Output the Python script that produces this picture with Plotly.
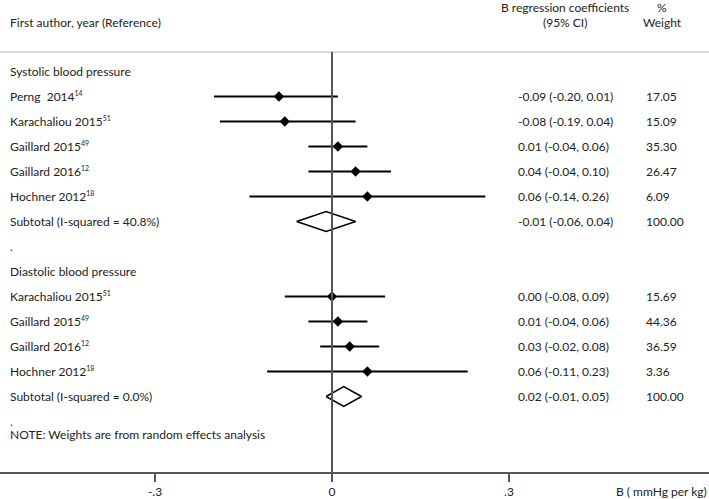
import plotly.graph_objects as go

# ---------------- data ----------------
sbp_authors = ["Perng  2014", "Karachaliou 2015", "Gaillard 2015", "Gaillard 2016", "Hochner 2012"]
sbp_refs = ["14", "51", "49", "12", "18"]
sbp_est = [-0.09, -0.08, 0.01, 0.04, 0.06]
sbp_lo = [-0.20, -0.19, -0.04, -0.04, -0.14]
sbp_hi = [0.01, 0.04, 0.06, 0.10, 0.26]
sbp_weight = ["17.05", "15.09", "35.30", "26.47", "6.09"]
sbp_sub = [-0.01, -0.06, 0.04]
sbp_i2 = "40.8%"

dbp_authors = ["Karachaliou 2015", "Gaillard 2015", "Gaillard 2016", "Hochner 2012"]
dbp_refs = ["51", "49", "12", "18"]
dbp_est = [0.00, 0.01, 0.03, 0.06]
dbp_lo = [-0.08, -0.04, -0.02, -0.11]
dbp_hi = [0.09, 0.06, 0.08, 0.23]
dbp_weight = ["15.69", "44.36", "36.59", "3.36"]
dbp_sub = [0.02, -0.01, 0.05]
dbp_i2 = "0.0%"

tick_vals = [-0.3, 0, 0.3]
tick_text = ["-.3", "0", ".3"]

# ---------------- layout helpers ----------------
W, H = 709, 499
BOTTOM = 27
PLOT_H = H - BOTTOM
ROW0_PX = 71.5
ROW_PX = 25.0
X0_PX = 332.0
UNIT_PX = 590.0

def px_to_row(py):
    return (py - ROW0_PX) / ROW_PX

FONT = "Lato, 'Open Sans', sans-serif"
TXT = "#222222"
FS = 12

fig = go.Figure()

def fmt(v):
    return f"{v:.2f}"

def ci_text(e, lo, hi):
    return f"{fmt(e)} ({fmt(lo)}, {fmt(hi)})"

annotations = []

def add_text(x_px, row, text, anchor="left", size=FS):
    annotations.append(dict(
        x=x_px / W, xref="paper", y=row, yref="y", text=text, showarrow=False,
        xanchor=anchor, yanchor="middle", font=dict(family=FONT, size=size, color=TXT)))

def add_group(start_row, title, authors, refs, est, lo, hi, weights, sub, i2):
    add_text(8, start_row, title)
    rows = [start_row + 1 + i for i in range(len(authors))]
    xs, ys = [], []
    for r, a, rf, e, l, h, w in zip(rows, authors, refs, est, lo, hi, weights):
        add_text(8, r, a.replace("  ", "&nbsp; ")
                 + f"<sup><span style='font-size:7px'>{rf}</span></sup>")
        add_text(516, r, ci_text(e, l, h))
        add_text(644, r, w)
        xs += [l, h, None]
        ys += [r, r, None]
    fig.add_trace(go.Scatter(x=xs, y=ys, mode="lines",
                             line=dict(color="black", width=2), hoverinfo="skip"))
    fig.add_trace(go.Scatter(x=est, y=rows, mode="markers",
                             marker=dict(symbol="diamond", size=8, color="black"),
                             hoverinfo="skip"))
    sr = start_row + 1 + len(authors)
    e, l, h = sub
    fig.add_trace(go.Scatter(x=[l, e, h, e, l], y=[sr, sr - 0.4, sr, sr + 0.4, sr],
                             mode="lines", line=dict(color="black", width=1.5),
                             hoverinfo="skip"))
    add_text(8, sr, f"Subtotal (I-squared = {i2})")
    add_text(516, sr, ci_text(e, l, h))
    add_text(644, sr, "100.00")
    return sr

end1 = add_group(0, "Systolic blood pressure", sbp_authors, sbp_refs, sbp_est, sbp_lo, sbp_hi,
                 sbp_weight, sbp_sub, sbp_i2)
add_text(8, end1 + 1, ".")
end2 = add_group(end1 + 2, "Diastolic blood pressure", dbp_authors, dbp_refs, dbp_est, dbp_lo,
                 dbp_hi, dbp_weight, dbp_sub, dbp_i2)
add_text(8, end2 + 1, ".")
add_text(8, px_to_row(434), "NOTE: Weights are from random effects analysis")

# headers
add_text(8, px_to_row(22), "First author, year (Reference)")
add_text(565, px_to_row(7), "B regression coefficients", anchor="center")
add_text(565, px_to_row(22), "(95% CI)", anchor="center")
add_text(662, px_to_row(7), "%", anchor="center")
add_text(662, px_to_row(22), "Weight", anchor="center")

# axis title
annotations.append(dict(x=1, xref="paper", y=(PLOT_H - 491) / PLOT_H, yref="paper",
                        text="B ( mmHg per kg)", showarrow=False, xanchor="right",
                        yanchor="middle", font=dict(family=FONT, size=FS, color=TXT)))

shapes = [
    dict(type="line", xref="paper", yref="paper", x0=0, x1=1,
         y0=(PLOT_H - 52) / PLOT_H, y1=(PLOT_H - 52) / PLOT_H,
         line=dict(color="#d9d9d9", width=2)),
    dict(type="line", xref="x", yref="paper", x0=0, x1=0, y0=0,
         y1=(PLOT_H - 52) / PLOT_H, line=dict(color="#555555", width=2)),
]

fig.update_layout(
    width=W, height=H, autosize=False,
    margin=dict(l=0, r=0, t=0, b=BOTTOM, pad=0),
    paper_bgcolor="white", plot_bgcolor="white",
    showlegend=False,
    annotations=annotations, shapes=shapes,
    xaxis=dict(range=[-X0_PX / UNIT_PX, (W - X0_PX) / UNIT_PX],
               tickvals=tick_vals, ticktext=tick_text, ticks="outside", ticklen=8,
               tickwidth=2, tickcolor="#555555", showline=True, linecolor="#555555",
               linewidth=2, showgrid=False, zeroline=False,
               tickfont=dict(family=FONT, size=FS, color=TXT)),
    yaxis=dict(range=[px_to_row(PLOT_H), px_to_row(0)], visible=False,
               showgrid=False, zeroline=False),
)

fig.write_html("out.html", config={"displayModeBar": False},
               post_script="document.body.style.margin='0';")
